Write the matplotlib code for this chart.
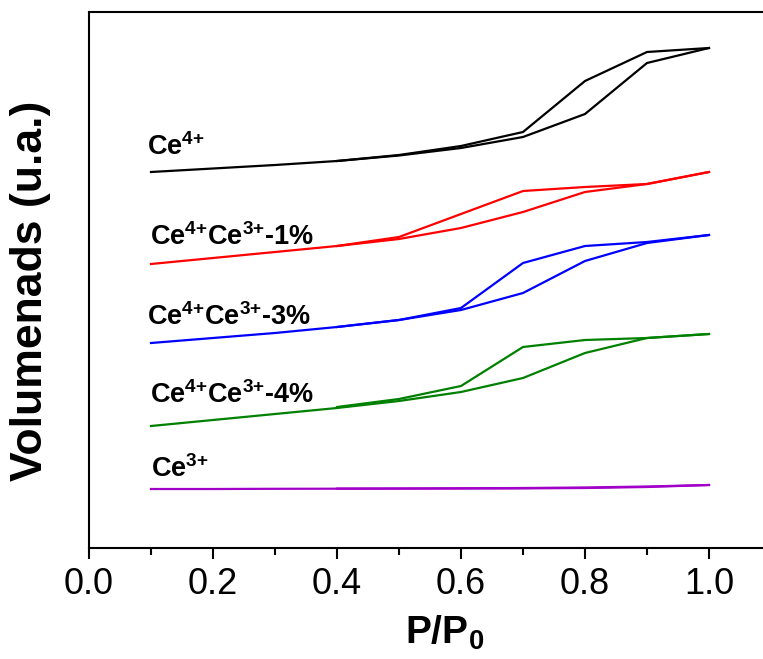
import numpy as np
import matplotlib
matplotlib.use('Agg')
from matplotlib import pyplot as plt
from matplotlib.ticker import MultipleLocator

plt.rcParams['font.family'] = ['Liberation Sans', 'DejaVu Sans']
plt.rcParams['mathtext.fontset'] = 'custom'
plt.rcParams['mathtext.rm'] = 'Liberation Sans:bold'
plt.rcParams['mathtext.bf'] = 'Liberation Sans:bold'
plt.rcParams['mathtext.it'] = 'Liberation Sans:bold'
plt.rcParams['mathtext.default'] = 'bf'

# 相对压力 P/P0
p_ads = [0.1, 0.2, 0.3, 0.4, 0.5, 0.6, 0.7, 0.8, 0.9, 1.0]
p_des = [1.0, 0.9, 0.8, 0.7, 0.6, 0.5, 0.4]

# 吸附 / 脱附 (任意单位, 已叠加偏移)
ce4_ads = [376, 379.5, 383, 387, 392.5, 400, 411, 434, 485, 500]
ce4_des = [500, 496, 467, 416, 402, 393, 387]
ce1_ads = [284, 290, 296, 302, 309, 320, 336, 356, 364, 376]
ce1_des = [376, 364, 361, 357, 334, 311, 302]
ce3p_ads = [205, 210, 215, 221, 228, 238, 255, 287, 305, 313]
ce3p_des = [313, 306, 302, 285, 240, 228, 221]
ce4p_ads = [122, 128, 134, 140, 147, 156, 170, 195, 210, 214]
ce4p_des = [214, 210, 208, 201, 162, 149, 141]
ce3_ads = [59, 59, 59.2, 59.3, 59.4, 59.5, 59.6, 60, 61, 63]
ce3_des = [63, 61.5, 60.5, 60, 59.7, 59.5, 59.4]

names = ['Ce$^{4{+}}$', 'Ce$^{4{+}}$Ce$^{3{+}}$-1%', 'Ce$^{4{+}}$Ce$^{3{+}}$-3%',
         'Ce$^{4{+}}$Ce$^{3{+}}$-4%', 'Ce$^{3{+}}$']
colors = ['black', '#ff0000', '#0000ff', '#008000', '#a000c8']
label_x = [0.094, 0.098, 0.094, 0.098, 0.10]
label_y = [393, 303, 223, 145, 71]

series = [(ce4_ads, ce4_des), (ce1_ads, ce1_des), (ce3p_ads, ce3p_des),
          (ce4p_ads, ce4p_des), (ce3_ads, ce3_des)]

fig = plt.figure(figsize=(7.63, 6.59), dpi=100)
ax = fig.add_axes([89 / 763, 1 - 548 / 659, 682 / 763, 536 / 659])

for (ads, des), c, name, lx, ly in zip(series, colors, names, label_x, label_y):
    ax.plot(p_ads, ads, color=c, lw=1.6)
    ax.plot(p_des, des, color=c, lw=1.6)
    ax.text(lx, ly, name, fontsize=19.5, fontweight='bold', ha='left', va='baseline')

ax.set_xlim(0, 1.1)
ax.set_ylim(0, 536)
ax.xaxis.set_minor_locator(MultipleLocator(0.1))
ax.set_xticks([0.0, 0.2, 0.4, 0.6, 0.8, 1.0])
ax.set_xticklabels(['0.0', '0.2', '0.4', '0.6', '0.8', '1.0'])
ax.tick_params(axis='x', which='major', direction='out', length=8, width=1.5,
               labelsize=26, pad=6)
ax.tick_params(axis='x', which='minor', direction='out', length=5, width=1.5)
ax.set_yticks([])
for s in ax.spines.values():
    s.set_linewidth(1.5)

fig.text(445 / 763, 1 - 633 / 659, 'P/P$_0$', fontsize=28, fontweight='bold',
         ha='center', va='center')
fig.text(31 / 763, 1 - 291 / 659, 'Volumenads (u.a.)', fontsize=32, fontweight='bold',
         rotation=90, ha='center', va='center')

fig.savefig('out.png', dpi=100)
